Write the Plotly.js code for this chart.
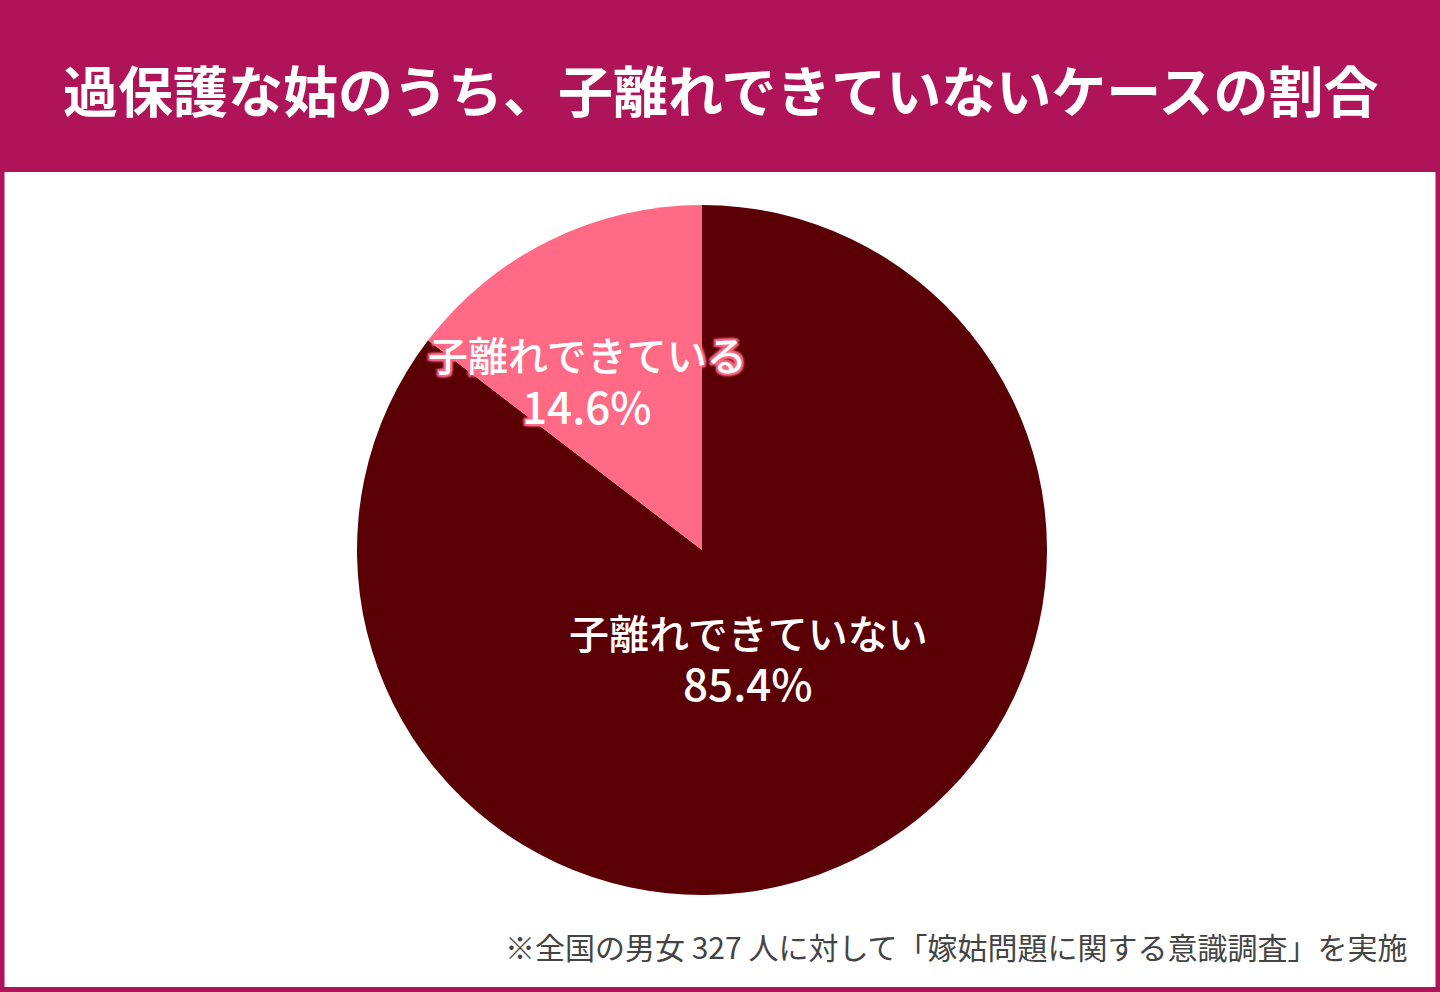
<!DOCTYPE html>
<html>
<head>
<meta charset="utf-8">
<script src="https://cdn.plot.ly/plotly-3.0.1.min.js"></script>
<style>
html,body{margin:0;padding:0;background:#fff;}
#chart{width:1440px;height:992px;}
</style>
</head>
<body>
<div id="chart"></div>
<script>
const titleText = "過保護な姑のうち、子離れできていないケースの割合";
const categories = ["子離れできていない", "子離れできている"];
const values = [85.4, 14.6];
const sliceColors = ["#5a0005", "#ff6b86"];
const noteText = "※全国の男女 327 人に対して「嫁姑問題に関する意識調査」を実施";

const W = 1440, H = 992;
const cx = 702, cy = 550, R = 345;
const FONT = "'Noto Sans CJK JP', 'Noto Sans', sans-serif";

const trace = {
  type: "pie",
  labels: categories,
  values: values,
  sort: false,
  direction: "clockwise",
  rotation: 0,
  marker: {colors: sliceColors, line: {width: 0}},
  textinfo: "none",
  hoverinfo: "label+percent",
  showlegend: false,
  domain: {x: [(cx - R) / W, (cx + R) / W], y: [1 - (cy + R) / H, 1 - (cy - R) / H]}
};

// label placement (pixel centres): [x, name line y, value line y]
const labelPos = [[748, 632, 682], [587, 354, 405]];
const shadows = ["none",
  "-2px -2px 2px #ff6b86, 2px -2px 2px #ff6b86, -2px 2px 2px #ff6b86, 2px 2px 2px #ff6b86, 0 0 5px #ff6b86"];
const annotations = [];
categories.forEach((c, i) => {
  annotations.push({
    xref: "paper", yref: "paper",
    x: labelPos[i][0] / W, y: 1 - labelPos[i][1] / H,
    xanchor: "center", yanchor: "middle", showarrow: false,
    text: c,
    font: {family: FONT, size: 40, color: "#ffffff", weight: 500, shadow: shadows[i]}
  });
  annotations.push({
    xref: "paper", yref: "paper",
    x: labelPos[i][0] / W, y: 1 - labelPos[i][2] / H,
    xanchor: "center", yanchor: "middle", showarrow: false,
    text: values[i].toFixed(1) + "%",
    font: {family: FONT, size: 44, color: "#ffffff", weight: 500, shadow: shadows[i]}
  });
});

annotations.push({
  xref: "paper", yref: "paper",
  x: 721 / W, y: 1 - 88 / H, xanchor: "center", yanchor: "middle",
  showarrow: false, text: titleText,
  font: {family: FONT, size: 55, color: "#ffffff", weight: 700}
});
annotations.push({
  xref: "paper", yref: "paper",
  x: 1410 / W, y: 1 - 946 / H, xanchor: "right", yanchor: "middle",
  showarrow: false, text: noteText,
  font: {family: FONT, size: 30, color: "#444444"}
});

const layout = {
  width: W, height: H,
  margin: {l: 0, r: 0, t: 0, b: 0},
  paper_bgcolor: "#ffffff",
  plot_bgcolor: "#ffffff",
  shapes: [
    {type: "rect", xref: "paper", yref: "paper", x0: 0, x1: 1, y0: 1 - 172 / H, y1: 1,
     fillcolor: "#ae1457", line: {width: 0}, layer: "below"},
    {type: "rect", xref: "paper", yref: "paper", x0: 2 / W, x1: 1 - 2 / W, y0: 2.5 / H, y1: 1 - 2 / H,
     fillcolor: "rgba(0,0,0,0)", line: {color: "#ae1457", width: 5}, layer: "above"}
  ],
  annotations: annotations
};

Plotly.newPlot("chart", [trace], layout, {displayModeBar: false, staticPlot: true});
</script>
</body>
</html>
